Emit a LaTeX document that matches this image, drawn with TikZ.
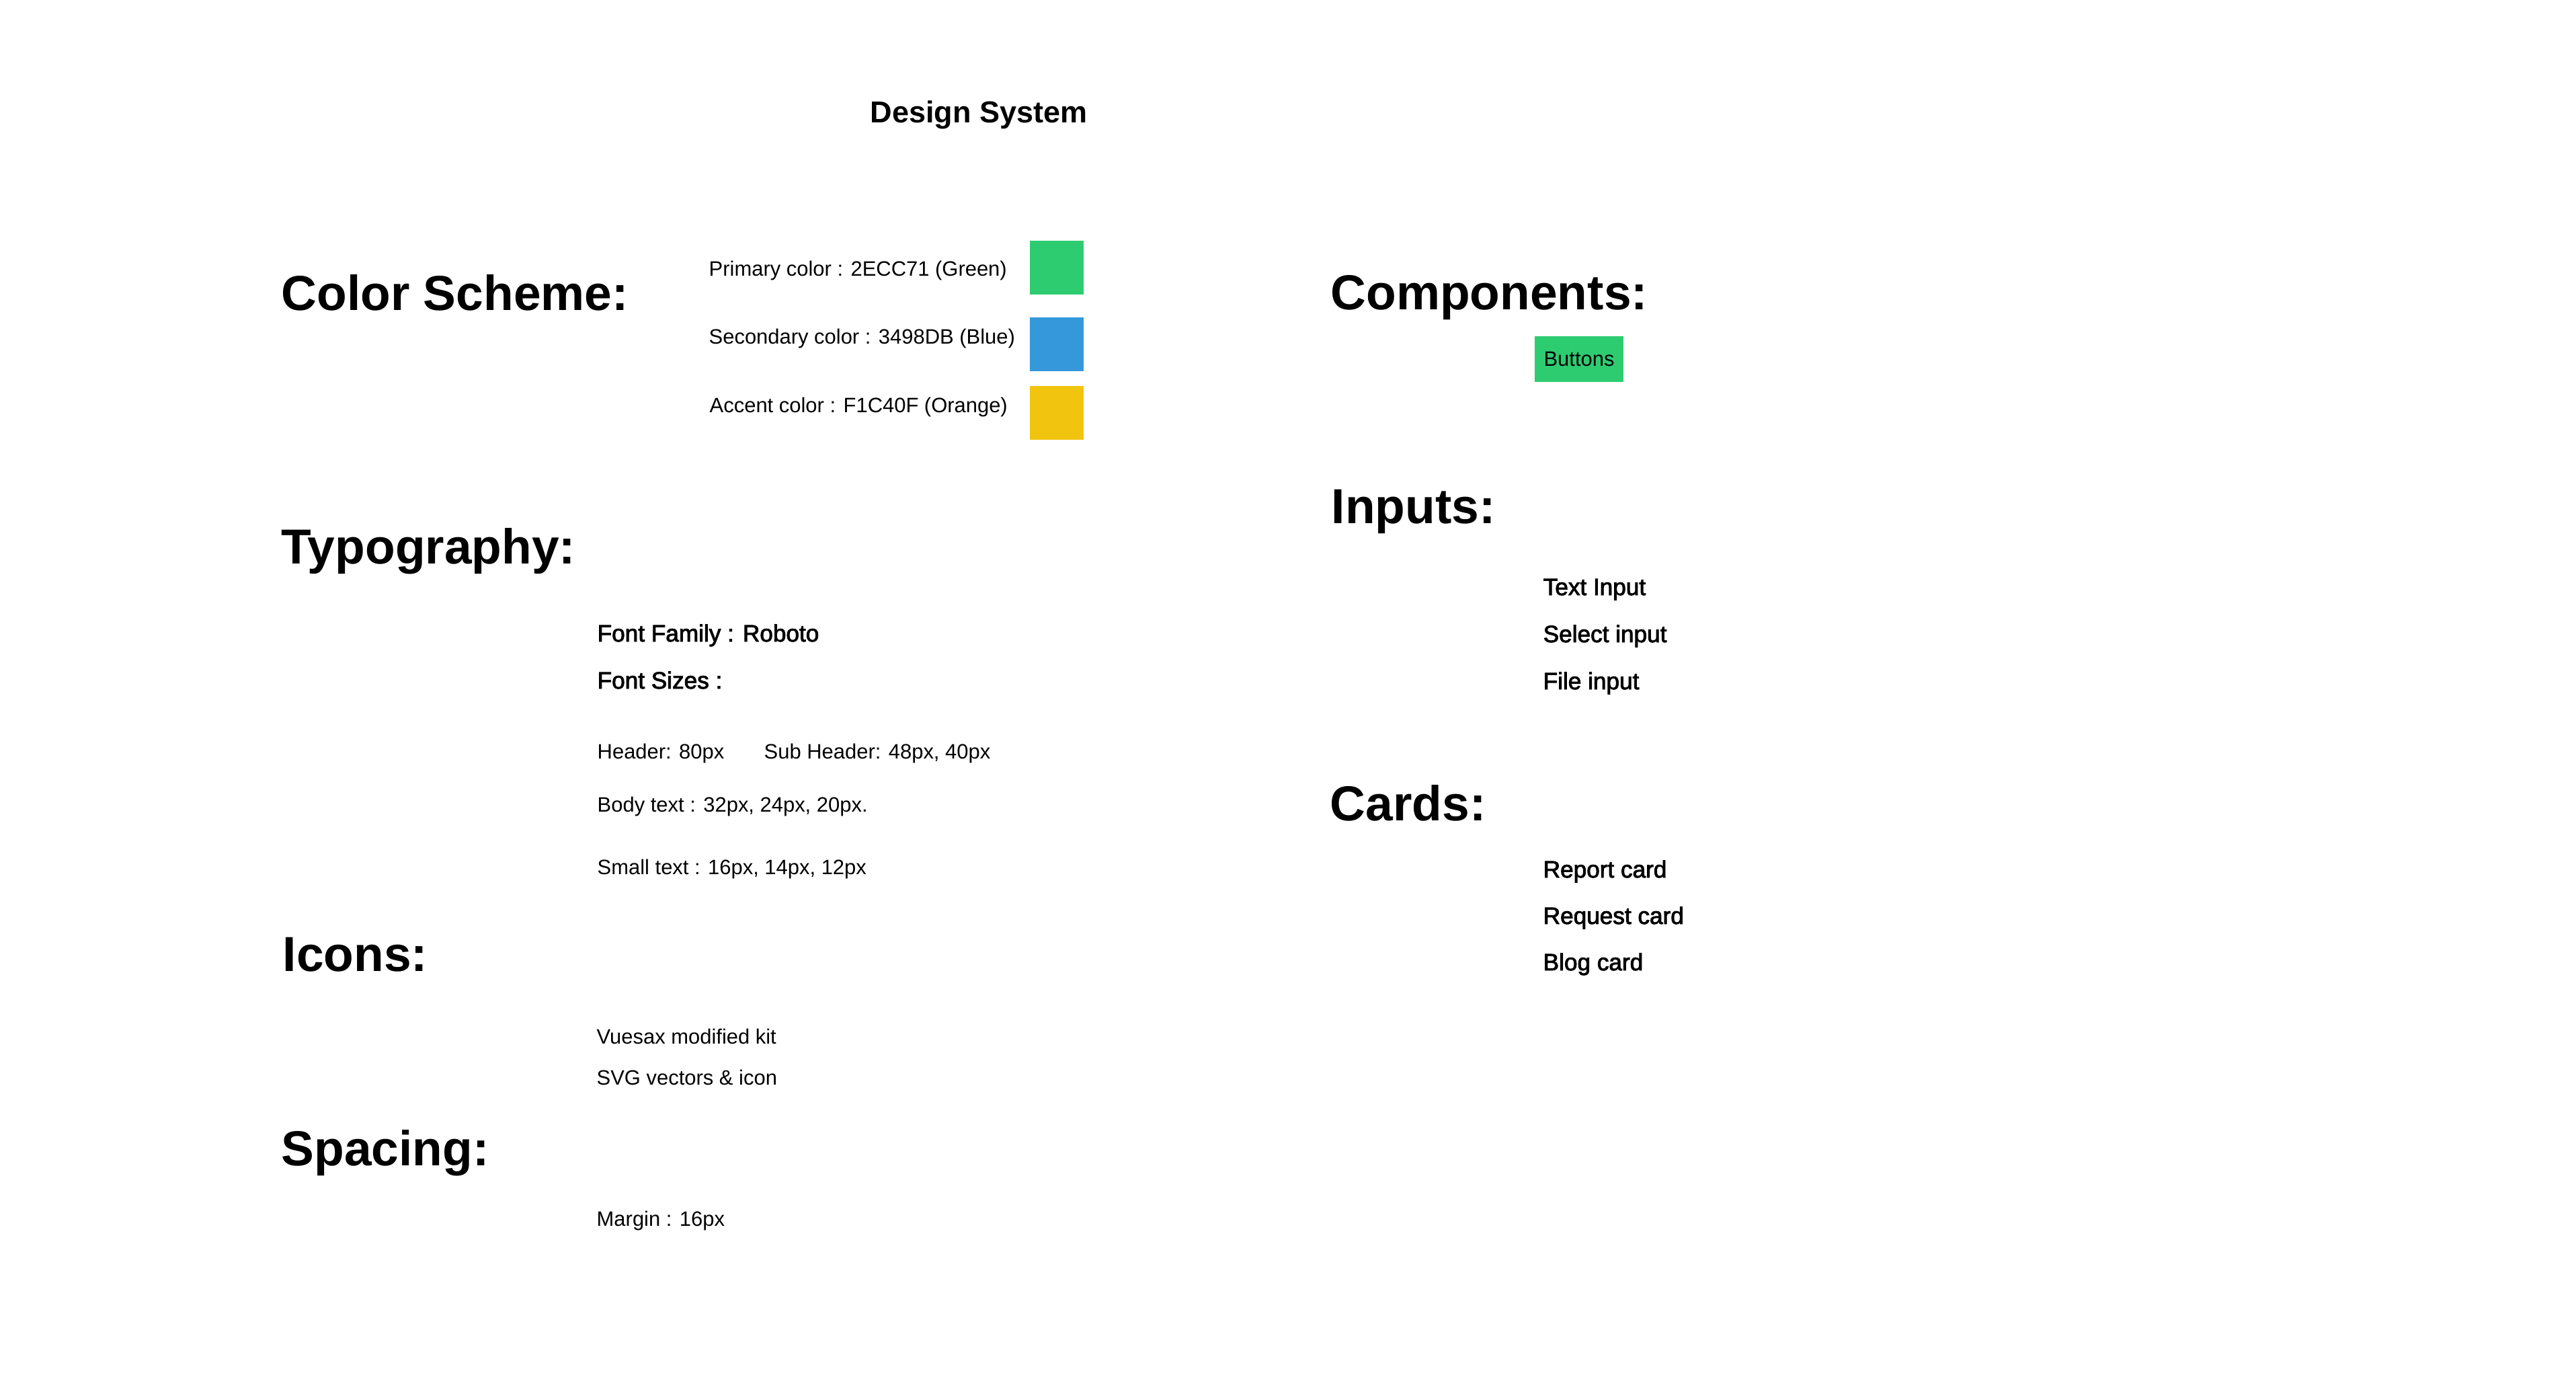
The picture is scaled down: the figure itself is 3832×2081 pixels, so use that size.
\documentclass[tikz,border=0pt]{standalone}
\usepackage{fontspec}
\setmainfont{Liberation Sans}
\newfontfamily\medfont[FakeBold=2.5]{Liberation Sans}
\usepackage{tikz}
\usetikzlibrary{positioning}

\definecolor{primary}{HTML}{2ECC71}
\definecolor{secondary}{HTML}{3498DB}
\definecolor{accent}{HTML}{F1C40F}

\begin{document}
\begin{tikzpicture}[x=0.01cm,y=-0.01cm]
\tikzset{H/.style={anchor=base west,inner sep=0,font=\fontsize{20.8}{24}\selectfont\bfseries}}
\tikzset{R/.style={anchor=base west,inner sep=0,font=\fontsize{8.8}{10}\selectfont}}
\tikzset{M/.style={anchor=base west,inner sep=0,font=\fontsize{10}{12}\selectfont\medfont}}
\tikzset{SW/.style={minimum size=0.8cm,inner sep=0}}

  \fill[white] (0,0) rectangle (3832,2081);
  \useasboundingbox (0,0) rectangle (3832,2081);

  \node[H,font=\fontsize{12.8}{15}\selectfont\bfseries] (title) at (1294,182) {Design System};

  \node[H] (h1) at (418,461)  {Color Scheme:};
  \node[H] (h2) at (418,838)  {Typography:};
  \node[H] (h3) at (420,1444) {Icons:};
  \node[H] (h4) at (418,1733) {Spacing:};
  \node[H] (h5) at (1979,460) {Components:};
  \node[H] (h6) at (1980,778) {Inputs:};
  \node[H] (h7) at (1978,1220) {Cards:};

  \node[R] (c1) at (1054,410) {Primary color : 2ECC71 (Green)};
  \node[R] (c2) at (1054,511) {Secondary color : 3498DB (Blue)};
  \node[R] (c3) at (1055,613) {Accent color : F1C40F (Orange)};
  \node[SW,fill=primary]   (s1) at (1572,398) {};
  \node[SW,fill=secondary] (s2) at (1572,512) {};
  \node[SW,fill=accent]    (s3) at (1572,614) {};

  \node[M] (t1) at (888,954)  {Font Family : Roboto};
  \node[M] (t2) at (888,1024) {Font Sizes :};
  \node[R] (t3) at (888,1128) {Header: 80px};
  \node[R] (t4) at (1136,1128) {Sub Header: 48px, 40px};
  \node[R] (t5) at (888,1207) {Body text : 32px, 24px, 20px.};
  \node[R] (t6) at (888,1300) {Small text : 16px, 14px, 12px};

  \node[R] (i1) at (887,1552) {Vuesax modified kit};
  \node[R] (i2) at (887,1613) {SVG vectors \& icon};

  \node[R] (m1) at (887,1823) {Margin : 16px};

  \node[R,anchor=center,fill=primary,minimum width=1.31cm,minimum height=0.68cm] (btn) at (2349,534) {Buttons};

  \node[M] (n1) at (2295,885)  {Text Input};
  \node[M] (n2) at (2295,955)  {Select input};
  \node[M] (n3) at (2295,1025) {File input};

  \node[M] (k1) at (2295,1305) {Report card};
  \node[M] (k2) at (2295,1374) {Request card};
  \node[M] (k3) at (2295,1443) {Blog card};
\end{tikzpicture}
\end{document}
